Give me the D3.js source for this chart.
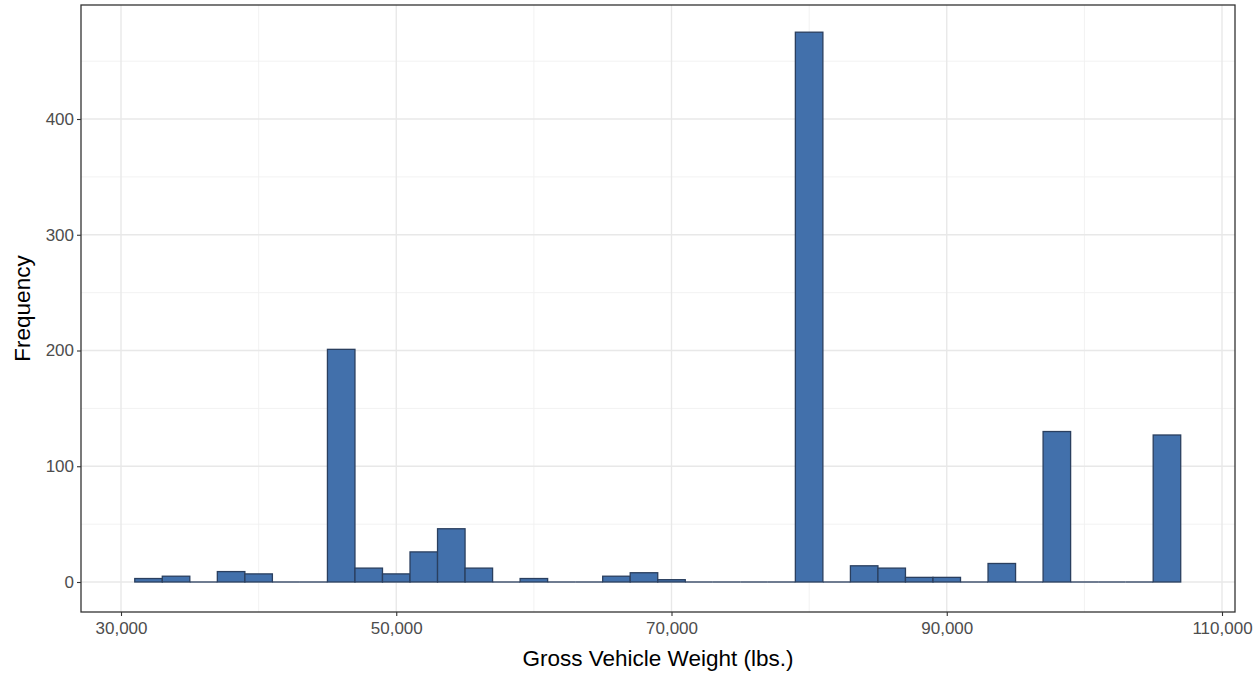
<!DOCTYPE html>
<html>
<head>
<meta charset="utf-8">
<script src="https://cdn.jsdelivr.net/npm/d3@7"></script>
<style>
  html, body { margin: 0; padding: 0; background: #fff; }
  svg { display: block; font-family: "Liberation Sans", Arial, sans-serif; }
</style>
</head>
<body>
<svg id="chart" width="1260" height="674"></svg>
<script>
// ---- data ----
const binStart = 31000;
const binWidth = 2000;
const counts = [3, 5, 0, 9, 7, 0, 0, 201, 12, 7, 26, 46, 12, 0, 3, 0, 0, 5, 8, 2,
                0, 0, 0, 0, 475, 0, 14, 12, 4, 4, 0, 16, 0, 130, 0, 0, 0, 127];
const xTicks = [30000, 50000, 70000, 90000, 110000];
const xMinor = [40000, 60000, 80000, 100000];
const yTicks = [0, 100, 200, 300, 400];
const yMinor = [50, 150, 250, 350, 450];
const xTitle = "Gross Vehicle Weight (lbs.)";
const yTitle = "Frequency";

const bins = counts.map((c, i) => ({ x0: binStart + i * binWidth, x1: binStart + (i + 1) * binWidth, n: c }));

// ---- layout ----
const svg = d3.select("#chart");
const panel = { left: 81, right: 1235, top: 5, bottom: 612 };

const x = d3.scaleLinear().domain([30000, 110000]).range([121, 1222]);
const y = d3.scaleLinear().domain([0, 400]).range([582, 119]);

const g = svg.append("g");

// minor grid
g.selectAll(".minx").data(xMinor).enter().append("line")
  .attr("x1", d => x(d)).attr("x2", d => x(d))
  .attr("y1", panel.top).attr("y2", panel.bottom)
  .attr("stroke", "#f0f0f0").attr("stroke-width", 0.9);
g.selectAll(".miny").data(yMinor).enter().append("line")
  .attr("x1", panel.left).attr("x2", panel.right)
  .attr("y1", d => y(d)).attr("y2", d => y(d))
  .attr("stroke", "#f0f0f0").attr("stroke-width", 0.9);
// major grid
g.selectAll(".majx").data(xTicks).enter().append("line")
  .attr("x1", d => x(d)).attr("x2", d => x(d))
  .attr("y1", panel.top).attr("y2", panel.bottom)
  .attr("stroke", "#e8e8e8").attr("stroke-width", 1.4);
g.selectAll(".majy").data(yTicks).enter().append("line")
  .attr("x1", panel.left).attr("x2", panel.right)
  .attr("y1", d => y(d)).attr("y2", d => y(d))
  .attr("stroke", "#e8e8e8").attr("stroke-width", 1.4);

// bars (zero-count bins drawn as flat outlines, as ggplot does)
const nonZero = bins.filter(d => d.n > 0);
const zero = bins.filter(d => d.n === 0);
g.selectAll(".zbar").data(zero).enter().append("line")
  .attr("x1", d => x(d.x0)).attr("x2", d => x(d.x1))
  .attr("y1", y(0)).attr("y2", y(0))
  .attr("stroke", "#2a3f5f").attr("stroke-width", 1.3);
g.selectAll(".bar").data(nonZero).enter().append("rect")
  .attr("x", d => x(d.x0))
  .attr("width", d => x(d.x1) - x(d.x0))
  .attr("y", d => y(d.n))
  .attr("height", d => y(0) - y(d.n))
  .attr("fill", "#4270ab")
  .attr("stroke", "#2a3f5f")
  .attr("stroke-width", 1.3);

// panel border
g.append("rect")
  .attr("x", panel.left).attr("y", panel.top)
  .attr("width", panel.right - panel.left).attr("height", panel.bottom - panel.top)
  .attr("fill", "none").attr("stroke", "#333333").attr("stroke-width", 1.3);

// axes
const fmt = d3.format(",");
const xAxis = d3.axisBottom(x).tickValues(xTicks).tickFormat(fmt).tickSize(4).tickPadding(6);
const xa = svg.append("g").attr("transform", `translate(0,${panel.bottom})`).call(xAxis);
xa.select(".domain").remove();
xa.selectAll(".tick line").attr("stroke", "#333333").attr("stroke-width", 1.1);
xa.selectAll(".tick text").attr("fill", "#4d4d4d").attr("font-size", 17)
  .attr("font-family", "'Liberation Sans', Arial, sans-serif");

const yAxis = d3.axisLeft(y).tickValues(yTicks).tickSize(4).tickPadding(3);
const ya = svg.append("g").attr("transform", `translate(${panel.left},0)`).call(yAxis);
ya.select(".domain").remove();
ya.selectAll(".tick line").attr("stroke", "#333333").attr("stroke-width", 1.1);
ya.selectAll(".tick text").attr("fill", "#4d4d4d").attr("font-size", 17)
  .attr("font-family", "'Liberation Sans', Arial, sans-serif");

// titles
svg.append("text")
  .attr("x", (panel.left + panel.right) / 2) .attr("y", 666)
  .attr("text-anchor", "middle").attr("font-size", 22.5).attr("fill", "#000")
  .text(xTitle);
svg.append("text")
  .attr("transform", `translate(30,${(panel.top + panel.bottom) / 2}) rotate(-90)`)
  .attr("text-anchor", "middle").attr("font-size", 22.5).attr("fill", "#000")
  .text(yTitle);
</script>
</body>
</html>
